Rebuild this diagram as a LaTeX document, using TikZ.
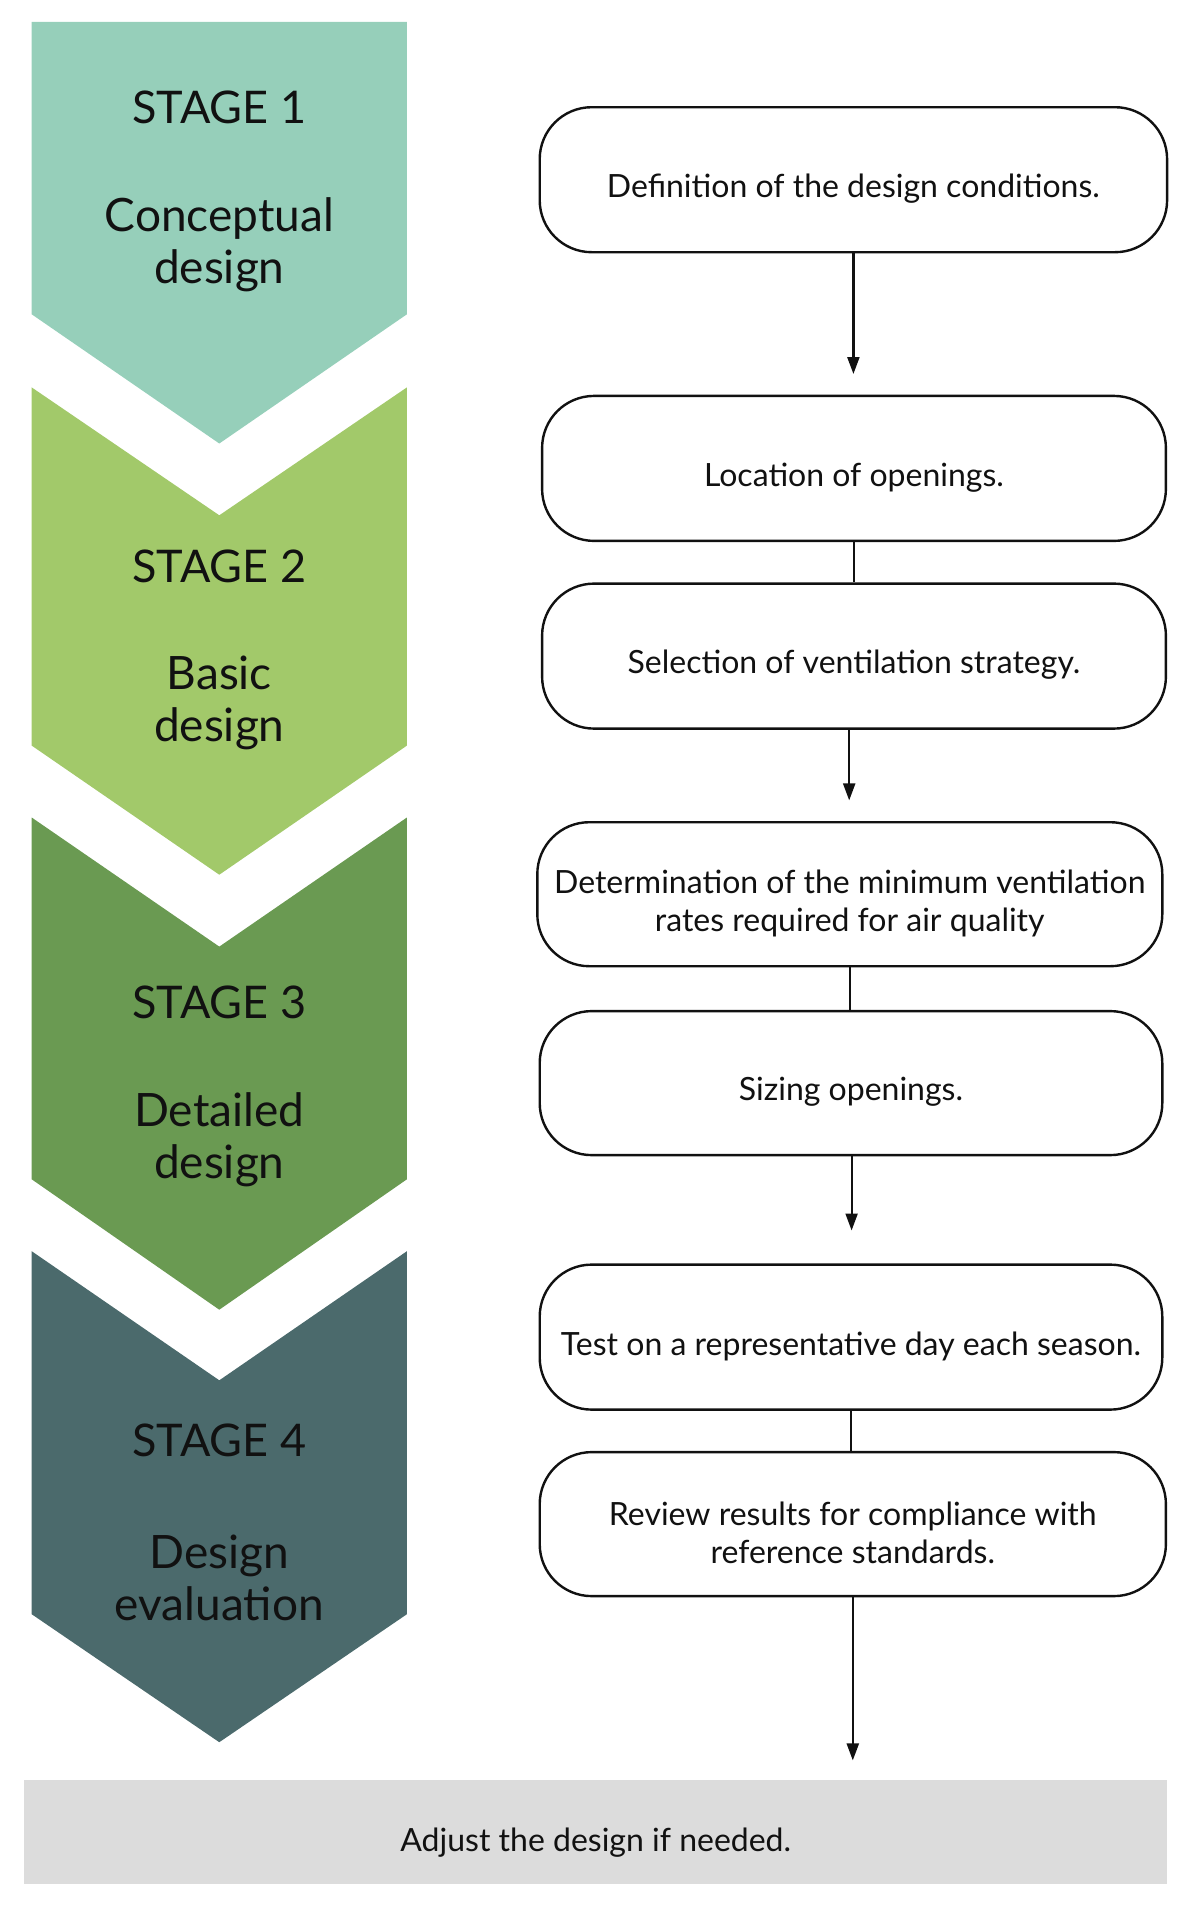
\documentclass[tikz,border=0pt]{standalone}
\usepackage{fontspec}
\setmainfont{Lato}
\usetikzlibrary{arrows.meta}
\definecolor{sone}{HTML}{96CFBA}
\definecolor{stwo}{HTML}{A2C96A}
\definecolor{sthree}{HTML}{6A9A52}
\definecolor{sfour}{HTML}{4B6A6C}
\definecolor{barg}{HTML}{DCDCDC}
\definecolor{ink}{HTML}{111111}
\tikzset{
  procbox/.style={draw=ink, line width=2.4pt, rounded corners=52pt, fill=white, inner sep=0pt},
  boxtext/.style={align=center, text=ink, font=\fontsize{32}{38}\selectfont, inner sep=0pt},
  stagetitle/.style={text=ink, font=\fontsize{45}{52}\selectfont, inner sep=0pt},
  stagename/.style={text=ink, align=center, font=\fontsize{46}{52}\selectfont, inner sep=0pt},
  arr/.style={draw=ink, line width=2.2pt, -{Triangle[length=17pt,width=12pt]}},
  conn/.style={draw=ink, line width=2.2pt},
}
\begin{document}
\begin{tikzpicture}[x=1pt,y=-1pt]
\useasboundingbox (0,0) rectangle (1200,1914);
% chevrons
\fill[sone] (31.7,21.9) -- (406.9,21.9) -- (406.9,314.3) -- (219.3,443.5) -- (31.7,314.3) -- cycle;
\fill[stwo] (31.7,387.4) -- (219.3,515.3) -- (406.9,387.4) -- (406.9,745.6) -- (219.3,874.7) -- (31.7,745.6) -- cycle;
\fill[sthree] (31.7,817.5) -- (219.3,946.6) -- (406.9,817.5) -- (406.9,1179.3) -- (219.3,1309.7) -- (31.7,1179.3) -- cycle;
\fill[sfour] (31.7,1251.2) -- (219.3,1380.3) -- (406.9,1251.2) -- (406.9,1614.2) -- (219.3,1742.2) -- (31.7,1614.2) -- cycle;
% stage texts
\node[stagetitle] (t1) at (219.3,107.2) {STAGE 1};
\node[stagename] (n1) at (219.3,244.6) {Conceptual\\design};
\node[stagetitle] (t2) at (219.3,566.5) {STAGE 2};
\node[stagename] (n2) at (219.3,703.3) {Basic\\design};
\node[stagetitle] (t3) at (219.3,1002.7) {STAGE 3};
\node[stagename] (n3) at (219.3,1140.1) {Detailed\\design};
\node[stagetitle] (t4) at (219.3,1440) {STAGE 4};
\node[stagename] (n4) at (219.3,1577.4) {Design\\evaluation};
% process boxes
\node[procbox, minimum width=627.4pt, minimum height=145pt] (b1) at (853.4,179.7) {};
\node[procbox, minimum width=623.8pt, minimum height=145pt] (b2) at (854.0,468.4) {};
\node[procbox, minimum width=623.8pt, minimum height=145pt] (b3) at (854.0,656.1) {};
\node[procbox, minimum width=625pt, minimum height=144pt] (b4) at (849.8,894.2) {};
\node[procbox, minimum width=622.6pt, minimum height=144pt] (b5) at (851.0,1083.1) {};
\node[procbox, minimum width=622.6pt, minimum height=145pt] (b6) at (851.0,1337.1) {};
\node[procbox, minimum width=626.2pt, minimum height=144pt] (b7) at (852.8,1524.1) {};
\node[boxtext] (b1t) at ([yshift=-9pt]b1.center) {Definition of the design conditions.};
\node[boxtext] (b2t) at ([yshift=-9pt]b2.center) {Location of openings.};
\node[boxtext] (b3t) at ([yshift=-9pt]b3.center) {Selection of ventilation strategy.};
\node[boxtext] (b4t) at ([yshift=-9pt]b4.center) {Determination of the minimum ventilation\\rates required for air quality};
\node[boxtext] (b5t) at ([yshift=-9pt]b5.center) {Sizing openings.};
\node[boxtext] (b6t) at ([yshift=-9pt]b6.center) {Test on a representative day each season.};
\node[boxtext] (b7t) at ([yshift=-9pt]b7.center) {Review results for compliance with\\reference standards.};
% bottom bar
\node[fill=barg, minimum width=1142.7pt, minimum height=103.5pt, inner sep=0pt] (bar) at (595.75,1831.75) {};
\node[boxtext] (bart) at ([yshift=-11pt]bar.center) {Adjust the design if needed.};
% arrow end points
\coordinate (e1) at (853.4,374.0);
\coordinate (e2) at (849.2,800.4);
\coordinate (e3) at (851.6,1230.5);
\coordinate (e4) at (852.8,1760.4);
% connectors
\draw[arr] (b1.south) -- (e1);
\draw[conn] (b2.south) -- (b3.north);
\draw[arr] (b3.south -| e2) -- (e2);
\draw[conn] (b4.south) -- (b4.south |- b5.north);
\draw[arr] (b5.south -| e3) -- (e3);
\draw[conn] (b6.south) -- (b6.south |- b7.north);
\draw[arr] (b7.south) -- (e4);
\end{tikzpicture}
\end{document}
